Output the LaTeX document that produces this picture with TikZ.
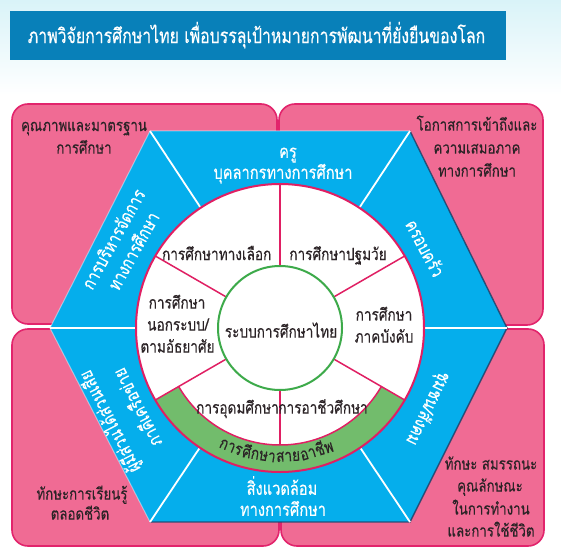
\documentclass[tikz,border=0pt]{standalone}
\usepackage{fontspec}
\newfontfamily\thai[Script=Thai, FakeStretch=0.80, FakeBold=0.3]{Loma}
\newfontfamily\thaititle[Script=Thai, FakeStretch=0.77, FakeBold=0.3]{Loma}
\usetikzlibrary{calc}
\definecolor{topcyan}{HTML}{D9F3F8}
\definecolor{titleblue}{HTML}{0880B9}
\definecolor{pinkfill}{HTML}{F06B94}
\definecolor{pinkline}{HTML}{E2246C}
\definecolor{hexblue}{HTML}{05AEEC}
\definecolor{ringred}{HTML}{E01F63}
\definecolor{greenring}{HTML}{3DAA4A}
\definecolor{greenband}{HTML}{72BC6C}
\definecolor{darktext}{HTML}{2B2326}
\definecolor{shadowc}{HTML}{1E3C62}
\tikzset{
  pinkbox/.style={fill=pinkfill, draw=pinkline, line width=1.6pt, rounded corners=16pt},
  innertxt/.style={inner sep=0pt, text height=9.2pt, text depth=0pt, text=darktext, font=\thai\fontsize{17}{19}\selectfont},
  pinktxt/.style={inner sep=0pt, text height=9.2pt, text depth=0pt, text=darktext, font=\thai\fontsize{16.6}{19}\selectfont},
  bluetxt/.style={inner sep=0pt, text height=9.7pt, text depth=0pt, text=white, font=\thai\fontsize{18.3}{20}\selectfont},
  bandtxt/.style={inner sep=0pt, text height=9.2pt, text depth=0pt, text=darktext, font=\thai\fontsize{17}{19}\selectfont},
  titletxt/.style={inner sep=0pt, text height=11.1pt, text depth=0pt, text=white, font=\thaititle\fontsize{20.6}{23}\selectfont},
  radial/.style={draw=ringred, line width=1.5pt},
  sepline/.style={draw=white, line width=1.8pt},
}
\begin{document}
\begin{tikzpicture}[x=1pt,y=-1pt]
\useasboundingbox (0,0) rectangle (561,553);
\fill[white] (0,0) rectangle (561,553);
\shade[top color=topcyan, bottom color=white] (0,0) rectangle (561,95);

% title
\node[fill=titleblue, minimum width=496pt, minimum height=49pt, inner sep=0pt, anchor=north west] (titlebar) at (10,11) {};
\node[titletxt] (title) at (256.5,37.5) {ภาพวิจัยการศึกษาไทย เพื่อบรรลุเป้าหมายการพัฒนาที่ยั่งยืนของโลก};

% pink quadrants
\draw[pinkbox] (12,104) rectangle (277,324);
\draw[pinkbox] (279,104) rectangle (543,325);
\draw[pinkbox] (12,329) rectangle (279,546);
\draw[pinkbox] (281,329) rectangle (544,546);

% hexagon
\coordinate (C) at (280,328);
\coordinate (h1) at (150,131);
\coordinate (h2) at (410,131);
\coordinate (h3) at (507,328);
\coordinate (h4) at (410,522);
\coordinate (h5) at (150,522);
\coordinate (h6) at (50,328);
\fill[hexblue] (h1) -- (h2) -- (h3) -- (h4) -- (h5) -- (h6) -- cycle;
\draw[shadowc, line width=1.4pt, opacity=0.8] (h2) -- (h3) -- (h4) -- (h5);
\draw[white, opacity=0.45, line width=1pt] (h5) -- (h6) -- (h1) -- (h2);
\foreach \v in {h1,h2,h3,h4,h5,h6} \draw[sepline] (\v) -- (C);

% outer circle
\fill[white] (C) circle[radius=144];
\fill[greenband] ($(C)+(150:144)$) arc[start angle=150, end angle=30, radius=144]
   -- ($(C)+(30:117)$) arc[start angle=30, end angle=150, radius=117] -- cycle;
\draw[ringred, line width=1.5pt] ($(C)+(150:117)$) arc[start angle=150, end angle=30, radius=117];
\draw[radial] ($(C)+(-90:62)$) -- ($(C)+(-90:144)$);
\draw[radial] ($(C)+(-30:62)$) -- ($(C)+(-30:144)$);
\draw[radial] ($(C)+(30:62)$) -- ($(C)+(30:144)$);
\draw[radial] ($(C)+(90:62)$) -- ($(C)+(90:117)$);
\draw[radial] ($(C)+(150:62)$) -- ($(C)+(150:144)$);
\draw[radial] ($(C)+(210:62)$) -- ($(C)+(210:144)$);
\draw[ringred, line width=2pt] (C) circle[radius=144];
\draw[greenring, line width=2pt, fill=white] (C) circle[radius=62];

% inner texts
\node[innertxt] (core) at (281,333) {ระบบการศึกษาไทย};
\node[innertxt] (alt) at (216.7,255.5) {การศึกษาทางเลือก};
\node[innertxt] (early) at (338,255.5) {การศึกษาปฐมวัย};
\node[innertxt] (comp1) at (384,316) {การศึกษา};
\node[innertxt] (comp2) at (384,338) {ภาคบังคับ};
\node[innertxt] (nf1) at (177,304) {การศึกษา};
\node[innertxt] (nf2) at (178,326) {นอกระบบ/};
\node[innertxt] (nf3) at (177.5,348) {ตามอัธยาศัย};
\node[innertxt] (higher) at (237.5,409) {การอุดมศึกษา};
\node[innertxt] (voc) at (323,409) {การอาชีวศึกษา};

% band text
\node[bandtxt, rotate=-22.4] (b1) at ($(C)+(112.4:129)$) {การ};
\node[bandtxt, rotate=-9.4] (b2) at ($(C)+(99.4:129)$) {ศึกษา};
\node[bandtxt, rotate=3.6] (b3) at ($(C)+(86.4:129)$) {สาย};
\node[bandtxt, rotate=16.6] (b4) at ($(C)+(73.4:129)$) {อาชีพ};

% blue texts
\node[bluetxt] (teach1) at (288,153) {ครู};
\node[bluetxt] (teach2) at (283,174) {บุคลากรทางการศึกษา};
\node[bluetxt] (env1) at (282,490) {สิ่งแวดล้อม};
\node[bluetxt] (env2) at (283,511) {ทางการศึกษา};
\node[bluetxt, rotate=-62] (family) at (423.5,249) {ครอบครัว};
\node[bluetxt, rotate=61] (mgmt1) at (115,240) {การบริหารจัดการ};
\node[bluetxt, rotate=61] (mgmt2) at (135,252) {ทางการศึกษา};
\node[bluetxt, rotate=-116] (comm) at (427.5,408) {ชุมชน/สังคม};
\node[bluetxt, rotate=117] (part1) at (111,421) {ผู้มีส่วนได้ส่วนเสีย};
\node[bluetxt, rotate=117] (part2) at (139,407) {ภาคีเครือข่าย};

% pink texts
\node[pinktxt] (q1) at (84,126.5) {คุณภาพและมาตรฐาน};
\node[pinktxt] (q2) at (84,149) {การศึกษา};
\node[pinktxt] (o1) at (477,126) {โอกาสการเข้าถึงและ};
\node[pinktxt] (o2) at (477,149) {ความเสมอภาค};
\node[pinktxt] (o3) at (477,172) {ทางการศึกษา};
\node[pinktxt] (l1) at (82,495) {ทักษะการเรียนรู้};
\node[pinktxt] (l2) at (80,515) {ตลอดชีวิต};
\node[pinktxt] (s1) at (491,465) {ทักษะ สมรรถนะ};
\node[pinktxt] (s2) at (490,487) {คุณลักษณะ};
\node[pinktxt] (s3) at (491,510) {ในการทำงาน};
\node[pinktxt] (s4) at (491,532) {และการใช้ชีวิต};
\end{tikzpicture}
\end{document}
